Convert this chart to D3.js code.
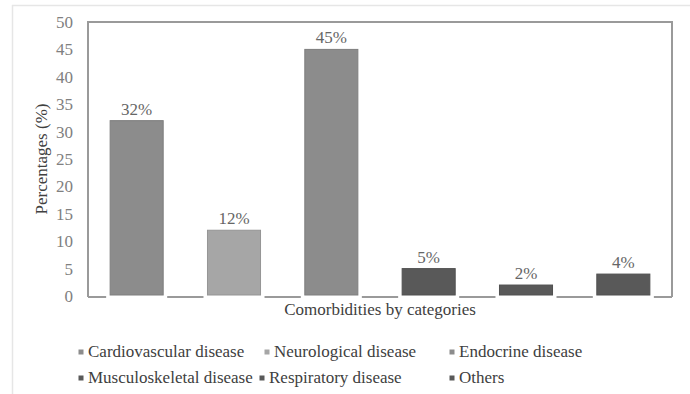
<!DOCTYPE html>
<html><head><meta charset="utf-8">
<script src="https://cdn.jsdelivr.net/npm/d3@7"></script>
<style>body{margin:0;background:#fff}svg{display:block}</style>
</head><body><svg id="c" width="690" height="394"></svg>
<script>
const categories = ["Cardiovascular disease","Neurological disease","Endocrine disease","Musculoskeletal disease","Respiratory disease","Others"];
const values = [32, 12, 45, 5, 2, 4];
const labels = ["32%","12%","45%","5%","2%","4%"];
const colors = ["#8c8c8c","#a6a6a6","#8c8c8c","#595959","#595959","#595959"];
const yTicks = [0,5,10,15,20,25,30,35,40,45,50];
const FONT = "Liberation Serif, Times New Roman, serif";

const svg = d3.select("#c").attr("font-family", FONT);
const m = {l:88, r:672, t:22, b:296};
svg.append("line").attr("x1",12).attr("x2",690).attr("y1",5.5).attr("y2",5.5).attr("stroke","#e6e6e6").attr("stroke-width",1.5);
svg.append("line").attr("x1",12.5).attr("x2",12.5).attr("y1",5).attr("y2",394).attr("stroke","#e6e6e6").attr("stroke-width",1.5);

const x = d3.scaleBand().domain(categories).range([m.l, m.r]).paddingInner(0.455).paddingOuter(0.2275);
const y = d3.scaleLinear().domain([0,50]).range([m.b, m.t]);

svg.append("path").attr("d",`M${m.l},${m.b+1}V${m.t}H${m.r}V${m.b+1}`).attr("fill","none").attr("stroke","#9a9a9a").attr("stroke-width",2);
const edges = [m.l].concat(categories.flatMap(c=>[x(c)-4, x(c)+x.bandwidth()+4])).concat([m.r]);
for(let i=0;i<edges.length;i+=2){
  svg.append("line").attr("x1",edges[i]).attr("x2",edges[i+1]).attr("y1",m.b+1).attr("y2",m.b+1).attr("stroke","#9a9a9a").attr("stroke-width",2);
}

const ya = svg.append("g").attr("transform",`translate(${m.l-15},0)`).call(d3.axisLeft(y).tickValues(yTicks).tickSize(0).tickPadding(0));
ya.attr("font-family", FONT).attr("font-size",17);
ya.select(".domain").remove();
ya.selectAll("text").attr("font-family", FONT).attr("font-size",17).attr("fill","#808080");

svg.selectAll("rect.bar").data(values).join("rect").attr("class","bar")
  .attr("x",(d,i)=>x(categories[i])).attr("width",x.bandwidth())
  .attr("y",d=>y(d)).attr("height",d=>y(0)-y(d)-1)
  .attr("fill",(d,i)=>colors[i]).attr("stroke",(d,i)=>d3.color(colors[i]).darker(0.3)).attr("stroke-width",1);

svg.selectAll("text.lab").data(values).join("text").attr("class","lab")
  .attr("x",(d,i)=>x(categories[i])+x.bandwidth()/2).attr("y",d=>y(d)-6)
  .attr("text-anchor","middle").attr("font-family", FONT).attr("font-size",17).attr("fill","#666").text((d,i)=>labels[i]);

svg.append("text").attr("x",380).attr("y",315).attr("text-anchor","middle").attr("font-family", FONT).attr("font-size",17).attr("fill","#404040").text("Comorbidities by categories");
svg.append("text").attr("transform","translate(47,159) rotate(-90)").attr("text-anchor","middle").attr("font-family", FONT).attr("font-size",17).attr("fill","#404040").text("Percentages (%)");

const legPos = [[81,352],[267,352],[452,352],[81,378],[262,378],[452,378]];
const lg = svg.selectAll("g.leg").data(categories).join("g").attr("class","leg").attr("transform",(d,i)=>`translate(${legPos[i][0]},${legPos[i][1]})`);
lg.append("rect").attr("x",-2.5).attr("y",-2.5).attr("width",5).attr("height",5).attr("fill",(d,i)=>colors[i]);
lg.append("text").attr("x",7).attr("y",4.5).attr("font-family", FONT).attr("font-size",17).attr("fill","#404040").text(d=>d);
</script></body></html>
